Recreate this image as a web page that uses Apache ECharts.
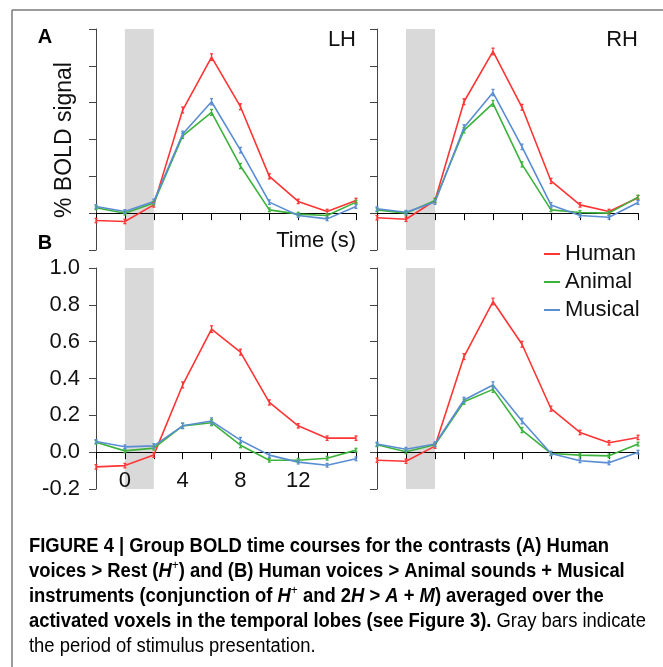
<!DOCTYPE html>
<html>
<head>
<meta charset="utf-8">
<script src="https://cdn.jsdelivr.net/npm/echarts@6/dist/echarts.min.js"></script>
<style>
  html, body { margin: 0; padding: 0; background: #fff; }
  #main { width: 663px; height: 667px; }
</style>
</head>
<body>
<div id="main"></div>
<script>
// time points (s) and series names
var times = [-2, 0, 2, 4, 6, 8, 10, 12, 14, 16];
var names = ['Human', 'Animal', 'Musical'];
var colors = ['#ff3535', '#3cb23c', '#5a8dd2'];

// (A) Human voices > Rest, left hemisphere
var humanLHA   = [-0.04, -0.045, 0.045, 0.56, 0.847, 0.578, 0.20, 0.064, 0.009, 0.069];
var animalLHA  = [0.029, 0.0, 0.055, 0.42, 0.547, 0.256, 0.018, -0.005, -0.013, 0.06];
var musicalLHA = [0.036, 0.009, 0.064, 0.43, 0.605, 0.342, 0.06, -0.013, -0.031, 0.036];
// (A) right hemisphere
var humanRHA   = [-0.025, -0.033, 0.069, 0.605, 0.878, 0.575, 0.175, 0.045, 0.009, 0.084];
var animalRHA  = [0.018, 0.0, 0.069, 0.45, 0.596, 0.265, 0.018, 0.004, 0.0, 0.087];
var musicalRHA = [0.024, 0.005, 0.06, 0.465, 0.655, 0.36, 0.045, -0.013, -0.022, 0.058];
// (B) conjunction, left hemisphere
var humanLHB   = [-0.08, -0.073, -0.016, 0.365, 0.668, 0.543, 0.27, 0.143, 0.076, 0.076];
var animalLHB  = [0.054, 0.007, 0.022, 0.143, 0.16, 0.038, -0.044, -0.044, -0.033, 0.011];
var musicalLHB = [0.058, 0.029, 0.034, 0.143, 0.169, 0.065, -0.016, -0.054, -0.071, -0.036];
// (B) right hemisphere
var humanRHB   = [-0.044, -0.049, 0.033, 0.519, 0.818, 0.586, 0.236, 0.107, 0.051, 0.08];
var animalRHB  = [0.04, 0.002, 0.04, 0.274, 0.341, 0.12, -0.007, -0.016, -0.02, 0.044];
var musicalRHB = [0.044, 0.016, 0.044, 0.283, 0.365, 0.169, -0.007, -0.047, -0.058, 0.0];

// error bar half-lengths (same order as times)
var humanErr   = [0.012, 0.012, 0.012, 0.016, 0.018, 0.016, 0.014, 0.012, 0.012, 0.012];
var animalErr  = [0.01, 0.01, 0.01, 0.014, 0.016, 0.014, 0.01, 0.01, 0.01, 0.01];
var musicalErr = [0.01, 0.01, 0.012, 0.015, 0.017, 0.015, 0.012, 0.01, 0.01, 0.01];

var yTicks = [-0.2, 0, 0.2, 0.4, 0.6, 0.8, 1.0];
var xLabels = [0, 4, 8, 12];
var stimulus = [0, 2];

var panels = [
  { grid: { left: 96, top: 29, width: 260, height: 221 }, data: [humanLHA, animalLHA, musicalLHA], labels: false },
  { grid: { left: 377, top: 29, width: 261, height: 221 }, data: [humanRHA, animalRHA, musicalRHA], labels: false },
  { grid: { left: 96, top: 268, width: 260, height: 221 }, data: [humanLHB, animalLHB, musicalLHB], labels: true },
  { grid: { left: 377, top: 268, width: 261, height: 221 }, data: [humanRHB, animalRHB, musicalRHB], labels: false }
];
var errs = [humanErr, animalErr, musicalErr];

var font = "'Liberation Sans', Arial, Helvetica, sans-serif";

function renderErr(params, api) {
  var x = api.value(0), y = api.value(1), e = api.value(2);
  var hi = api.coord([x, y + e]);
  var lo = api.coord([x, y - e]);
  var st = { stroke: api.visual('color'), lineWidth: 1.3 };
  return {
    type: 'group',
    children: [
      { type: 'line', shape: { x1: hi[0], y1: hi[1], x2: lo[0], y2: lo[1] }, style: st },
      { type: 'line', shape: { x1: hi[0] - 1.5, y1: hi[1], x2: hi[0] + 1.5, y2: hi[1] }, style: st },
      { type: 'line', shape: { x1: lo[0] - 1.5, y1: lo[1], x2: lo[0] + 1.5, y2: lo[1] }, style: st }
    ]
  };
}

var grids = [], xAxes = [], yAxes = [], series = [];
panels.forEach(function (p, i) {
  grids.push(p.grid);
  xAxes.push({
    type: 'value', gridIndex: i, min: -2, max: 16, interval: 2, z: 1.5,
    axisLine: { onZero: true, lineStyle: { color: '#000', width: 1 } },
    axisTick: { length: 7, lineStyle: { color: '#000' } },
    axisLabel: {
      show: p.labels, margin: -19, fontSize: 22, color: '#111', fontFamily: font,
      formatter: function (v) { return xLabels.indexOf(v) >= 0 ? String(v) : ''; }
    },
    splitLine: { show: false }
  });
  yAxes.push({
    type: 'value', gridIndex: i, min: yTicks[0], max: yTicks[yTicks.length - 1], interval: 0.2, z: 1.5,
    axisLine: { show: true, onZero: false, lineStyle: { color: '#444', width: 1 } },
    axisTick: { show: true, length: 7, lineStyle: { color: '#444' } },
    axisLabel: {
      show: p.labels, margin: 16, fontSize: 22, color: '#111', fontFamily: font,
      formatter: function (v) { return v.toFixed(1); }
    },
    splitLine: { show: false }
  });
  p.data.forEach(function (vals, k) {
    var s = {
      name: names[k], type: 'line', xAxisIndex: i, yAxisIndex: i,
      data: times.map(function (t, j) { return [t, vals[j]]; }),
      symbol: 'none', color: colors[k],
      lineStyle: { width: 1.6, color: colors[k] },
      z: 2
    };
    if (k === 0) {
      s.markArea = {
        silent: true, z: 1,
        itemStyle: { color: '#d9d9d9' },
        data: [[{ xAxis: stimulus[0] }, { xAxis: stimulus[1] }]]
      };
    }
    series.push(s);
  });
  p.data.forEach(function (vals, k) {
    series.push({
      name: names[k], type: 'custom', xAxisIndex: i, yAxisIndex: i,
      itemStyle: { color: colors[k] },
      renderItem: renderErr,
      encode: { x: 0, y: 1 },
      data: times.map(function (t, j) { return [t, vals[j], errs[k][j]]; }),
      z: 3
    });
  });
});

var captionFirst = 'FIGURE 4 | Group BOLD time courses for the contrasts (A) Human';
var caption =
  '{b|' + captionFirst + '}\n' +
  '{b|voices > Rest (}{bi|H}{sup|+}{b|) and (B) Human voices > Animal sounds + Musical}\n' +
  '{b|instruments (conjunction of }{bi|H}{sup|+}{b| and 2}{bi|H}{b| > }{bi|A}{b| + }{bi|M}{b|) averaged over the}\n' +
  '{b|activated voxels in the temporal lobes (see Figure 3).}{n| Gray bars indicate}\n' +
  '{n|the period of stimulus presentation.}';

// the caption face is a condensed sans: squeeze Liberation Sans to the width of the first line
var ctx = document.createElement('canvas').getContext('2d');
ctx.font = "bold 20px 'Liberation Sans'";
var squeeze = 580 / ctx.measureText(captionFirst).width;

var chart = echarts.init(document.getElementById('main'), null, { renderer: 'canvas' });
chart.setOption({
  backgroundColor: '#fff',
  animation: false,
  grid: grids,
  xAxis: xAxes,
  yAxis: yAxes,
  legend: {
    data: names, orient: 'vertical', left: 539, top: 238,
    icon: 'rect', itemWidth: 16, itemHeight: 2, itemGap: 6,
    textStyle: { fontSize: 22, color: '#111', fontFamily: font }
  },
  series: series,
  graphic: [
    { type: 'line', shape: { x1: 12, y1: 10, x2: 663, y2: 10 }, style: { stroke: '#7a7a7a', lineWidth: 1.5 } },
    { type: 'line', shape: { x1: 12, y1: 10, x2: 12, y2: 667 }, style: { stroke: '#7a7a7a', lineWidth: 1.5 } },
    { type: 'text', x: 45, y: 37, style: { text: 'A', font: 'bold 20px ' + font, fill: '#000', align: 'center', verticalAlign: 'middle' } },
    { type: 'text', x: 45, y: 243, style: { text: 'B', font: 'bold 20px ' + font, fill: '#000', align: 'center', verticalAlign: 'middle' } },
    { type: 'text', x: 356, y: 40, style: { text: 'LH', font: '22px ' + font, fill: '#111', align: 'right', verticalAlign: 'middle' } },
    { type: 'text', x: 638, y: 40, style: { text: 'RH', font: '22px ' + font, fill: '#111', align: 'right', verticalAlign: 'middle' } },
    { type: 'text', x: 356, y: 241, style: { text: 'Time (s)', font: '22px ' + font, fill: '#111', align: 'right', verticalAlign: 'middle' } },
    { type: 'text', x: 65, y: 140, rotation: Math.PI / 2, style: { text: '% BOLD signal', font: '23px ' + font, fill: '#111', align: 'center', verticalAlign: 'middle' } },
    {
      type: 'text', x: 29, y: 534, scaleX: squeeze,
      style: {
        text: caption, fill: '#000', align: 'left', verticalAlign: 'top',
        rich: {
          b: { fontFamily: 'Liberation Sans', fontWeight: 'bold', fontSize: 20, lineHeight: 25, color: '#111' },
          bi: { fontFamily: 'Liberation Sans', fontWeight: 'bold', fontStyle: 'italic', fontSize: 20, lineHeight: 25, color: '#111' },
          sup: { fontFamily: 'Liberation Sans', fontSize: 13, lineHeight: 12, verticalAlign: 'top', color: '#111' },
          n: { fontFamily: 'Liberation Sans', fontSize: 20, lineHeight: 25, color: '#3a3a3a' }
        }
      }
    }
  ]
});
</script>
</body>
</html>
